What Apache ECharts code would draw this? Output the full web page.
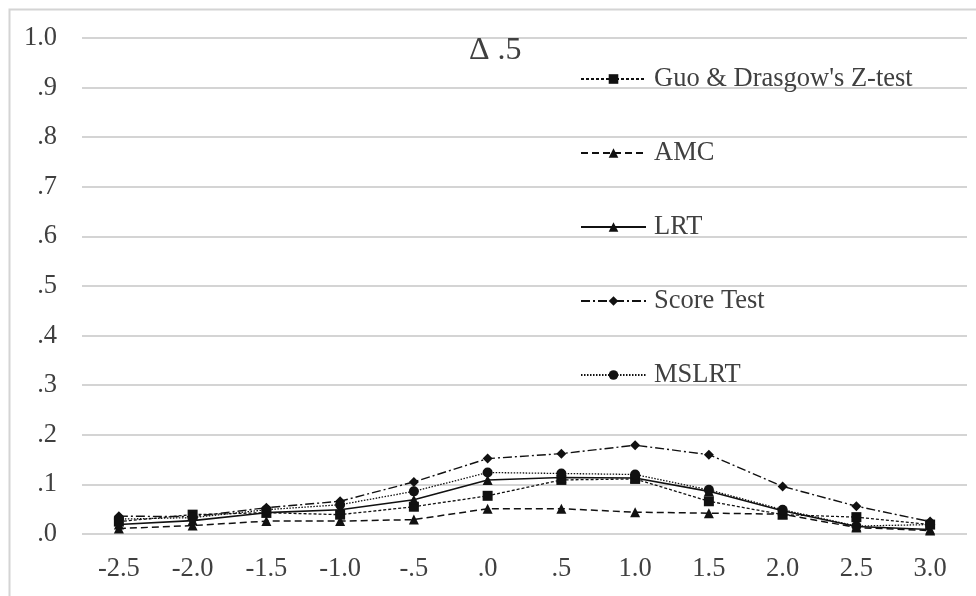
<!DOCTYPE html>
<html>
<head>
<meta charset="utf-8">
<script src="https://cdn.jsdelivr.net/npm/echarts@6/dist/echarts.min.js"></script>
<style>
html,body{margin:0;padding:0;background:#fff;}
#chart{width:976px;height:596px;}
</style>
</head>
<body>
<div id="chart"></div>
<script>
const categories = ['-2.5','-2.0','-1.5','-1.0','-.5','.0','.5','1.0','1.5','2.0','2.5','3.0'];
const yTickLabels = ['.0','.1','.2','.3','.4','.5','.6','.7','.8','.9','1.0'];
const titleText = 'Δ .5';
const seriesNames = ["Guo & Drasgow's Z-test", 'AMC', 'LRT', 'Score Test', 'MSLRT'];
const guoValues   = [0.025, 0.039, 0.043, 0.039, 0.055, 0.077, 0.109, 0.111, 0.066, 0.039, 0.034, 0.019];
const amcValues   = [0.011, 0.017, 0.026, 0.026, 0.029, 0.051, 0.051, 0.044, 0.042, 0.040, 0.013, 0.007];
const lrtValues   = [0.019, 0.027, 0.043, 0.049, 0.069, 0.109, 0.114, 0.113, 0.086, 0.047, 0.015, 0.009];
const scoreValues = [0.036, 0.035, 0.053, 0.066, 0.105, 0.152, 0.162, 0.179, 0.160, 0.096, 0.056, 0.025];
const mslrtValues = [0.030, 0.033, 0.049, 0.059, 0.086, 0.124, 0.122, 0.120, 0.089, 0.049, 0.016, 0.019];

const font = '"Liberation Serif", "Times New Roman", serif';
const txt = '#404040';

function mk(name, data, symbol, lineType, width) {
  return {
    name: name, type: 'line', data: data,
    symbol: symbol, symbolSize: 10,
    itemStyle: {color: '#111'},
    lineStyle: {color: '#111', width: width, type: lineType},
    emphasis: {disabled: true},
    animation: false
  };
}

const chart = echarts.init(document.getElementById('chart'), null, {renderer: 'canvas'});
chart.setOption({
  animation: false,
  backgroundColor: '#fff',
  graphic: [{
    type: 'rect', left: 7, top: 7, z: -10,
    shape: {x: 0, y: 0, width: 980, height: 600},
    style: {fill: 'none', stroke: '#d4d4d4', lineWidth: 2}
  }],
  title: {
    text: titleText, left: 464, top: 30,
    textStyle: {fontFamily: font, fontSize: 32, fontWeight: 'normal', color: txt}
  },
  legend: {
    orient: 'vertical', left: 575, top: 59,
    itemWidth: 65, itemHeight: 12, itemGap: 44,
    data: seriesNames,
    textStyle: {fontFamily: font, fontSize: 26.5, color: txt, lineHeight: 30, padding: [0, 0, 0, 3]}
  },
  grid: {left: 82, right: 9, top: 38, bottom: 62, containLabel: false},
  xAxis: {
    type: 'category', data: categories, boundaryGap: true,
    axisLine: {show: false}, axisTick: {show: false},
    axisLabel: {fontFamily: font, fontSize: 26.5, color: txt, margin: 22}
  },
  yAxis: {
    type: 'value', min: 0, max: 1, interval: 0.1,
    axisLine: {show: false}, axisTick: {show: false},
    splitLine: {lineStyle: {color: '#d4d4d4', width: 2}},
    axisLabel: {
      fontFamily: font, fontSize: 26.5, color: txt, margin: 25,
      formatter: function (v) { return yTickLabels[Math.round(v * 10)]; }
    }
  },
  series: [
    mk(seriesNames[0], guoValues, 'rect', [3, 2], 1.3),
    mk(seriesNames[1], amcValues, 'triangle', [7, 4], 1.5),
    mk(seriesNames[2], lrtValues, 'triangle', 'solid', 1.6),
    mk(seriesNames[3], scoreValues, 'diamond', [9, 3, 2, 3], 1.4),
    mk(seriesNames[4], mslrtValues, 'circle', [1.5, 1.5], 1.3)
  ]
});
</script>
</body>
</html>
